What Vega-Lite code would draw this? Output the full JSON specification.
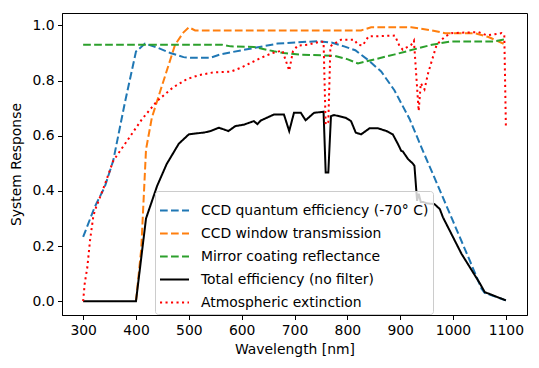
{
  "$schema": "https://vega.github.io/schema/vega-lite/v6.json",
  "width": 465,
  "height": 302,
  "autosize": {"type": "none"},
  "padding": {"left": 62, "top": 13, "right": 12, "bottom": 53},
  "background": "white",
  "config": {
    "view": {"stroke": "black", "strokeWidth": 1},
    "font": "DejaVu Sans",
    "axis": {
      "labelFont": "DejaVu Sans", "labelFontSize": 13.9, "labelColor": "#000000",
      "titleFont": "DejaVu Sans", "titleFontSize": 13.9, "titleFontWeight": "normal", "titleColor": "#000000",
      "domainColor": "black", "tickColor": "black", "tickSize": 4.5, "labelPadding": 3.5, "grid": false
    }
  },
  "data": {"values": [
    {"s":"CCD quantum efficiency (-70° C)","x":300,"y":0.233},
    {"s":"CCD quantum efficiency (-70° C)","x":322,"y":0.342},
    {"s":"CCD quantum efficiency (-70° C)","x":341,"y":0.415},
    {"s":"CCD quantum efficiency (-70° C)","x":357,"y":0.51},
    {"s":"CCD quantum efficiency (-70° C)","x":379,"y":0.72},
    {"s":"CCD quantum efficiency (-70° C)","x":400,"y":0.905},
    {"s":"CCD quantum efficiency (-70° C)","x":417,"y":0.934},
    {"s":"CCD quantum efficiency (-70° C)","x":440,"y":0.92},
    {"s":"CCD quantum efficiency (-70° C)","x":465,"y":0.9},
    {"s":"CCD quantum efficiency (-70° C)","x":490,"y":0.885},
    {"s":"CCD quantum efficiency (-70° C)","x":503,"y":0.883},
    {"s":"CCD quantum efficiency (-70° C)","x":541,"y":0.883},
    {"s":"CCD quantum efficiency (-70° C)","x":560,"y":0.895},
    {"s":"CCD quantum efficiency (-70° C)","x":600,"y":0.91},
    {"s":"CCD quantum efficiency (-70° C)","x":668,"y":0.934},
    {"s":"CCD quantum efficiency (-70° C)","x":744,"y":0.943},
    {"s":"CCD quantum efficiency (-70° C)","x":770,"y":0.938},
    {"s":"CCD quantum efficiency (-70° C)","x":794,"y":0.924},
    {"s":"CCD quantum efficiency (-70° C)","x":815,"y":0.91},
    {"s":"CCD quantum efficiency (-70° C)","x":839,"y":0.875},
    {"s":"CCD quantum efficiency (-70° C)","x":864,"y":0.833},
    {"s":"CCD quantum efficiency (-70° C)","x":889,"y":0.765},
    {"s":"CCD quantum efficiency (-70° C)","x":918,"y":0.66},
    {"s":"CCD quantum efficiency (-70° C)","x":943,"y":0.545},
    {"s":"CCD quantum efficiency (-70° C)","x":970,"y":0.425},
    {"s":"CCD quantum efficiency (-70° C)","x":1000,"y":0.29},
    {"s":"CCD quantum efficiency (-70° C)","x":1030,"y":0.155},
    {"s":"CCD quantum efficiency (-70° C)","x":1054,"y":0.045},
    {"s":"CCD quantum efficiency (-70° C)","x":1060,"y":0.03},
    {"s":"CCD quantum efficiency (-70° C)","x":1100,"y":0.003},

    {"s":"CCD window transmission","x":400,"y":0.0},
    {"s":"CCD window transmission","x":410,"y":0.19},
    {"s":"CCD window transmission","x":419,"y":0.55},
    {"s":"CCD window transmission","x":430,"y":0.665},
    {"s":"CCD window transmission","x":446,"y":0.762},
    {"s":"CCD window transmission","x":474,"y":0.93},
    {"s":"CCD window transmission","x":490,"y":0.975},
    {"s":"CCD window transmission","x":500,"y":0.993},
    {"s":"CCD window transmission","x":512,"y":0.982},
    {"s":"CCD window transmission","x":826,"y":0.982},
    {"s":"CCD window transmission","x":845,"y":0.993},
    {"s":"CCD window transmission","x":921,"y":0.993},
    {"s":"CCD window transmission","x":940,"y":0.988},
    {"s":"CCD window transmission","x":960,"y":0.982},
    {"s":"CCD window transmission","x":985,"y":0.972},
    {"s":"CCD window transmission","x":1041,"y":0.972},
    {"s":"CCD window transmission","x":1067,"y":0.958},
    {"s":"CCD window transmission","x":1100,"y":0.93},

    {"s":"Mirror coating reflectance","x":300,"y":0.93},
    {"s":"Mirror coating reflectance","x":563,"y":0.93},
    {"s":"Mirror coating reflectance","x":579,"y":0.924},
    {"s":"Mirror coating reflectance","x":623,"y":0.922},
    {"s":"Mirror coating reflectance","x":661,"y":0.906},
    {"s":"Mirror coating reflectance","x":680,"y":0.9},
    {"s":"Mirror coating reflectance","x":712,"y":0.894},
    {"s":"Mirror coating reflectance","x":775,"y":0.89},
    {"s":"Mirror coating reflectance","x":801,"y":0.877},
    {"s":"Mirror coating reflectance","x":820,"y":0.862},
    {"s":"Mirror coating reflectance","x":890,"y":0.895},
    {"s":"Mirror coating reflectance","x":960,"y":0.93},
    {"s":"Mirror coating reflectance","x":997,"y":0.942},
    {"s":"Mirror coating reflectance","x":1078,"y":0.942},
    {"s":"Mirror coating reflectance","x":1100,"y":0.95},

    {"s":"Total efficiency (no filter)","x":300,"y":0.0},
    {"s":"Total efficiency (no filter)","x":400,"y":0.0},
    {"s":"Total efficiency (no filter)","x":419,"y":0.3},
    {"s":"Total efficiency (no filter)","x":440,"y":0.418},
    {"s":"Total efficiency (no filter)","x":458,"y":0.497},
    {"s":"Total efficiency (no filter)","x":481,"y":0.571},
    {"s":"Total efficiency (no filter)","x":500,"y":0.605},
    {"s":"Total efficiency (no filter)","x":530,"y":0.612},
    {"s":"Total efficiency (no filter)","x":541,"y":0.617},
    {"s":"Total efficiency (no filter)","x":557,"y":0.629},
    {"s":"Total efficiency (no filter)","x":575,"y":0.617},
    {"s":"Total efficiency (no filter)","x":588,"y":0.635},
    {"s":"Total efficiency (no filter)","x":604,"y":0.64},
    {"s":"Total efficiency (no filter)","x":623,"y":0.653},
    {"s":"Total efficiency (no filter)","x":630,"y":0.642},
    {"s":"Total efficiency (no filter)","x":636,"y":0.655},
    {"s":"Total efficiency (no filter)","x":661,"y":0.677},
    {"s":"Total efficiency (no filter)","x":680,"y":0.677},
    {"s":"Total efficiency (no filter)","x":690,"y":0.617},
    {"s":"Total efficiency (no filter)","x":699,"y":0.683},
    {"s":"Total efficiency (no filter)","x":712,"y":0.683},
    {"s":"Total efficiency (no filter)","x":721,"y":0.656},
    {"s":"Total efficiency (no filter)","x":737,"y":0.683},
    {"s":"Total efficiency (no filter)","x":755,"y":0.687},
    {"s":"Total efficiency (no filter)","x":759,"y":0.467},
    {"s":"Total efficiency (no filter)","x":764,"y":0.467},
    {"s":"Total efficiency (no filter)","x":769,"y":0.671},
    {"s":"Total efficiency (no filter)","x":775,"y":0.675},
    {"s":"Total efficiency (no filter)","x":797,"y":0.665},
    {"s":"Total efficiency (no filter)","x":807,"y":0.653},
    {"s":"Total efficiency (no filter)","x":816,"y":0.611},
    {"s":"Total efficiency (no filter)","x":826,"y":0.605},
    {"s":"Total efficiency (no filter)","x":842,"y":0.627},
    {"s":"Total efficiency (no filter)","x":858,"y":0.627},
    {"s":"Total efficiency (no filter)","x":874,"y":0.617},
    {"s":"Total efficiency (no filter)","x":886,"y":0.605},
    {"s":"Total efficiency (no filter)","x":896,"y":0.569},
    {"s":"Total efficiency (no filter)","x":902,"y":0.545},
    {"s":"Total efficiency (no filter)","x":905,"y":0.543},
    {"s":"Total efficiency (no filter)","x":915,"y":0.515},
    {"s":"Total efficiency (no filter)","x":924,"y":0.499},
    {"s":"Total efficiency (no filter)","x":927,"y":0.491},
    {"s":"Total efficiency (no filter)","x":932,"y":0.364},
    {"s":"Total efficiency (no filter)","x":935,"y":0.39},
    {"s":"Total efficiency (no filter)","x":939,"y":0.36},
    {"s":"Total efficiency (no filter)","x":943,"y":0.36},
    {"s":"Total efficiency (no filter)","x":950,"y":0.355},
    {"s":"Total efficiency (no filter)","x":965,"y":0.352},
    {"s":"Total efficiency (no filter)","x":975,"y":0.334},
    {"s":"Total efficiency (no filter)","x":981,"y":0.304},
    {"s":"Total efficiency (no filter)","x":1016,"y":0.172},
    {"s":"Total efficiency (no filter)","x":1051,"y":0.064},
    {"s":"Total efficiency (no filter)","x":1060,"y":0.033},
    {"s":"Total efficiency (no filter)","x":1100,"y":0.003},

    {"s":"Atmospheric extinction","x":300,"y":0.0},
    {"s":"Atmospheric extinction","x":303,"y":0.064},
    {"s":"Atmospheric extinction","x":308,"y":0.124},
    {"s":"Atmospheric extinction","x":313,"y":0.22},
    {"s":"Atmospheric extinction","x":319,"y":0.304},
    {"s":"Atmospheric extinction","x":322,"y":0.328},
    {"s":"Atmospheric extinction","x":338,"y":0.407},
    {"s":"Atmospheric extinction","x":357,"y":0.509},
    {"s":"Atmospheric extinction","x":383,"y":0.581},
    {"s":"Atmospheric extinction","x":411,"y":0.659},
    {"s":"Atmospheric extinction","x":440,"y":0.726},
    {"s":"Atmospheric extinction","x":470,"y":0.775},
    {"s":"Atmospheric extinction","x":497,"y":0.806},
    {"s":"Atmospheric extinction","x":520,"y":0.82},
    {"s":"Atmospheric extinction","x":547,"y":0.83},
    {"s":"Atmospheric extinction","x":579,"y":0.832},
    {"s":"Atmospheric extinction","x":598,"y":0.846},
    {"s":"Atmospheric extinction","x":617,"y":0.864},
    {"s":"Atmospheric extinction","x":636,"y":0.882},
    {"s":"Atmospheric extinction","x":658,"y":0.9},
    {"s":"Atmospheric extinction","x":677,"y":0.909},
    {"s":"Atmospheric extinction","x":690,"y":0.836},
    {"s":"Atmospheric extinction","x":697,"y":0.906},
    {"s":"Atmospheric extinction","x":706,"y":0.927},
    {"s":"Atmospheric extinction","x":725,"y":0.93},
    {"s":"Atmospheric extinction","x":750,"y":0.942},
    {"s":"Atmospheric extinction","x":755,"y":0.94},
    {"s":"Atmospheric extinction","x":759,"y":0.64},
    {"s":"Atmospheric extinction","x":764,"y":0.65},
    {"s":"Atmospheric extinction","x":768,"y":0.925},
    {"s":"Atmospheric extinction","x":788,"y":0.948},
    {"s":"Atmospheric extinction","x":813,"y":0.948},
    {"s":"Atmospheric extinction","x":820,"y":0.93},
    {"s":"Atmospheric extinction","x":829,"y":0.927},
    {"s":"Atmospheric extinction","x":840,"y":0.96},
    {"s":"Atmospheric extinction","x":890,"y":0.963},
    {"s":"Atmospheric extinction","x":899,"y":0.924},
    {"s":"Atmospheric extinction","x":905,"y":0.912},
    {"s":"Atmospheric extinction","x":921,"y":0.93},
    {"s":"Atmospheric extinction","x":926,"y":0.945},
    {"s":"Atmospheric extinction","x":935,"y":0.69},
    {"s":"Atmospheric extinction","x":939,"y":0.79},
    {"s":"Atmospheric extinction","x":946,"y":0.768},
    {"s":"Atmospheric extinction","x":953,"y":0.828},
    {"s":"Atmospheric extinction","x":969,"y":0.93},
    {"s":"Atmospheric extinction","x":985,"y":0.96},
    {"s":"Atmospheric extinction","x":997,"y":0.972},
    {"s":"Atmospheric extinction","x":1048,"y":0.976},
    {"s":"Atmospheric extinction","x":1064,"y":0.964},
    {"s":"Atmospheric extinction","x":1092,"y":0.972},
    {"s":"Atmospheric extinction","x":1097,"y":0.966},
    {"s":"Atmospheric extinction","x":1100,"y":0.635}
  ]},
  "mark": {"type": "line", "strokeWidth": 2, "clip": true},
  "encoding": {
    "x": {"field": "x", "type": "quantitative",
      "scale": {"domain": [260, 1140], "nice": false, "zero": false},
      "axis": {"title": "Wavelength [nm]", "values": [300,400,500,600,700,800,900,1000,1100], "format": "d", "labelPadding": 4, "titlePadding": 5}},
    "y": {"field": "y", "type": "quantitative",
      "scale": {"domain": [-0.05, 1.045], "nice": false, "zero": false},
      "axis": {"title": "System Response", "values": [0,0.2,0.4,0.6,0.8,1.0], "format": ".1f", "titlePadding": 8}},
    "color": {"field": "s", "type": "nominal",
      "scale": {"domain": ["CCD quantum efficiency (-70° C)","CCD window transmission","Mirror coating reflectance","Total efficiency (no filter)","Atmospheric extinction"],
        "range": ["#1f77b4","#ff7f0e","#2ca02c","#000000","#ff0000"]},
      "legend": {"orient": "none", "legendX": 93, "legendY": 178, "title": null,
        "symbolType": "stroke", "symbolSize": 841, "symbolStrokeWidth": 2,
        "labelFont": "DejaVu Sans", "labelFontSize": 13.9, "labelColor": "#000000", "labelOffset": 11, "labelLimit": 400,
        "strokeColor": "#cccccc", "fillColor": "rgba(255,255,255,0.8)", "cornerRadius": 3, "padding": 4, "rowPadding": -4.5}},
    "strokeDash": {"field": "s", "type": "nominal",
      "scale": {"domain": ["CCD quantum efficiency (-70° C)","CCD window transmission","Mirror coating reflectance","Total efficiency (no filter)","Atmospheric extinction"],
        "range": [[7.7,3.3],[7.7,3.3],[7.7,3.3],[1,0],[2.1,3.4]]},
      "legend": null}
  }
}
